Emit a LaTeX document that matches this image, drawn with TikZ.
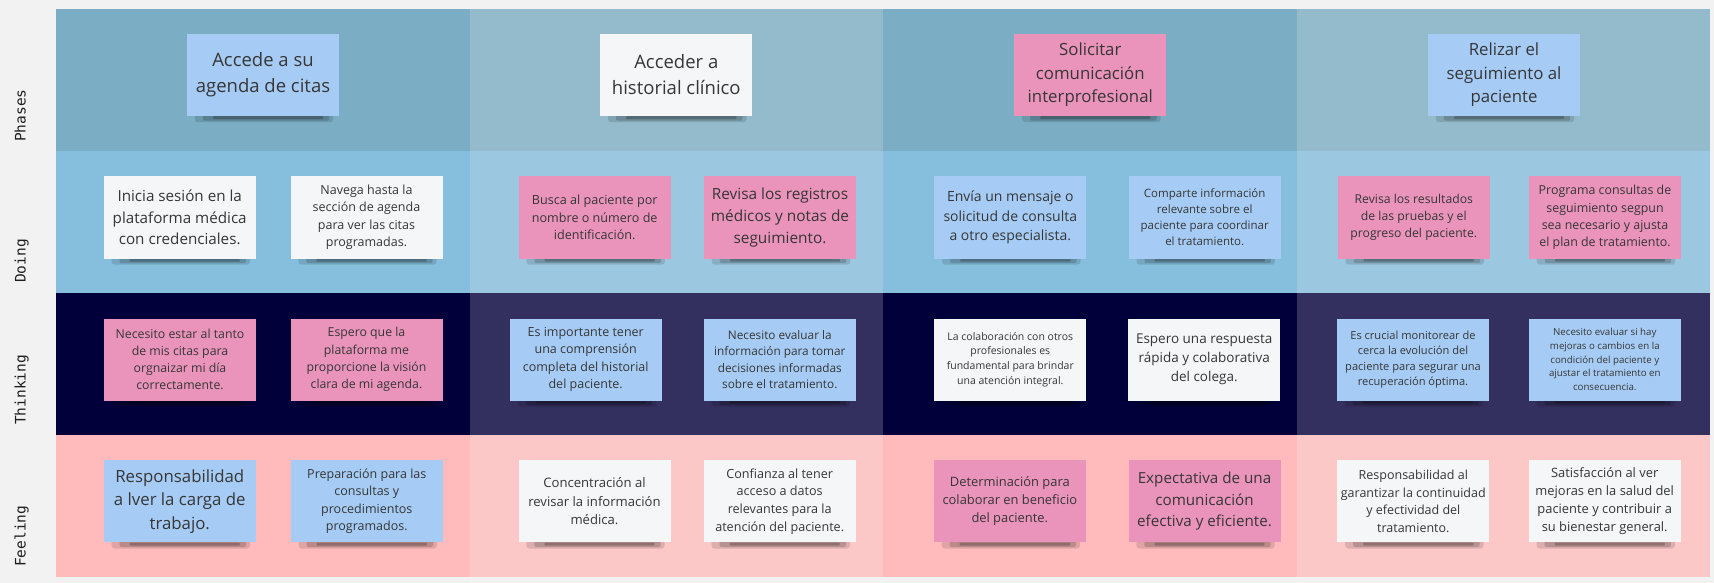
\documentclass[tikz,border=0pt]{standalone}
\usepackage{fontspec}
\setmainfont{Open Sans}
\newfontfamily\labelfont{DejaVu Sans Mono}

% board colours
\definecolor{pageBg}{HTML}{F2F2F2}
\definecolor{phA}{HTML}{7BAEC4}
\definecolor{phB}{HTML}{93BBCB}
\definecolor{doA}{HTML}{86BFDD}
\definecolor{doB}{HTML}{9CC7E0}
\definecolor{thA}{HTML}{02003A}
\definecolor{thB}{HTML}{332F5E}
\definecolor{feA}{HTML}{FFBBBB}
\definecolor{feB}{HTML}{FBC7C7}
% sticky note colours
\definecolor{stBlue}{HTML}{A6CCF5}
\definecolor{stPink}{HTML}{EA94BB}
\definecolor{stWhite}{HTML}{F5F6F8}
\definecolor{inkNote}{HTML}{363636}
\definecolor{inkLabel}{HTML}{1E1E1E}

\pgfdeclarelayer{grid}
\pgfdeclarelayer{shade}
\pgfsetlayers{grid,shade,main}

% font size in pt with a 1.4 line spacing
\newcommand\nf[1]{\fontsize{#1pt}{\dimexpr #1pt*14/10\relax}\selectfont}

\tikzset{
  note/.style={rectangle, minimum width=152pt, minimum height=82pt,
    inner sep=0pt, align=center, text=inkNote},
  rowlabel/.style={rotate=90, anchor=base west, inner sep=0pt,
    text=inkLabel, font=\labelfont\fontsize{14.5pt}{17pt}\selectfont},
  shadowsoft/.style={fill=black, opacity=.12, rounded corners=3pt},
  shadowmid/.style={fill=black, opacity=.16, rounded corners=2pt},
  shadowcore/.style={fill=black, opacity=.22, rounded corners=1pt},
}

% #1 name, #2 centre x, #3 centre y, #4 colour, #5 font size, #6 text
\newcommand\sticky[6]{%
  \node[note, fill=#4, font=\nf{#5}] (#1) at (#2,#3) {#6};
  \begin{pgfonlayer}{shade}
    \fill[shadowsoft] ([xshift=8pt,yshift=4pt]#1.south west) rectangle ([xshift=-6pt,yshift=-6pt]#1.south east);
    \fill[shadowmid] ([xshift=16pt,yshift=2pt]#1.south west) rectangle ([xshift=-10pt,yshift=-4.5pt]#1.south east);
    \fill[shadowcore] ([xshift=26pt]#1.south west) rectangle ([xshift=-16pt,yshift=-3pt]#1.south east);
  \end{pgfonlayer}}

\begin{document}
\begin{tikzpicture}[x=1pt, y=-1pt]
\useasboundingbox (0,0) rectangle (1714,583);

\begin{pgfonlayer}{grid}
  \fill[pageBg] (0,0) rectangle (1714,583);
  \foreach \ya/\yb/\ca/\cb in {9/150.7/phA/phB, 150.7/293/doA/doB,
                               293/435/thA/thB, 435/577/feA/feB} {
    \fill[\ca] (56,\ya) rectangle (469.5,\yb);
    \fill[\cb] (469.5,\ya) rectangle (883,\yb);
    \fill[\ca] (883,\ya) rectangle (1296.5,\yb);
    \fill[\cb] (1296.5,\ya) rectangle (1710,\yb);
  }
\end{pgfonlayer}

% row titles
\node[rowlabel] (lPhases)   at (25.5,142) {Phases};
\node[rowlabel] (lDoing)    at (25.5,283) {Doing};
\node[rowlabel] (lThinking) at (25.5,425) {Thinking};
\node[rowlabel] (lFeeling)  at (25.5,567) {Feeling};

% phases
\sticky{p1}{263}{75}{stBlue}{18.5}{Accede a su\\agenda de citas}
\sticky{p2}{676.3}{75}{stWhite}{18.5}{Acceder a\\historial clínico}
\sticky{p3}{1090.3}{75}{stPink}{16.8}{Solicitar\\comunicación\\interprofesional}
\sticky{p4}{1504}{75}{stBlue}{16.8}{Relizar el\\seguimiento al\\paciente}

% doing
\sticky{d1a}{179.7}{217.5}{stWhite}{15.2}{Inicia sesión en la\\plataforma médica\\con credenciales.}
\sticky{d1b}{366.5}{217.5}{stWhite}{12.5}{Navega hasta la\\sección de agenda\\para ver las citas\\programadas.}
\sticky{d2a}{594.7}{217.5}{stPink}{12.6}{Busca al paciente por\\nombre o número de\\identificación.}
\sticky{d2b}{780}{217.5}{stPink}{15.4}{Revisa los registros\\médicos y notas de\\seguimiento.}
\sticky{d3a}{1010.3}{217.5}{stBlue}{14}{Envía un mensaje o\\solicitud de consulta\\a otro especialista.}
\sticky{d3b}{1204.7}{217.5}{stBlue}{11.5}{Comparte información\\relevante sobre el\\paciente para coordinar\\el tratamiento.}
\sticky{d4a}{1413.8}{217.5}{stPink}{12.2}{Revisa los resultados\\de las pruebas y el\\progreso del paciente.}
\sticky{d4b}{1605}{217.5}{stPink}{12.4}{Programa consultas de\\seguimiento segpun\\sea necesario y ajusta\\el plan de tratamiento.}

% thinking
\sticky{t1a}{180}{359.5}{stPink}{12.3}{Necesito estar al tanto\\de mis citas para\\orgnaizar mi día\\correctamente.}
\sticky{t1b}{366.5}{359.5}{stPink}{12.3}{Espero que la\\plataforma me\\proporcione la visión\\clara de mi agenda.}
\sticky{t2a}{585.7}{359.5}{stBlue}{12.5}{Es importante tener\\una comprensión\\completa del historial\\del paciente.}
\sticky{t2b}{779.8}{359.5}{stBlue}{11.8}{Necesito evaluar la\\información para tomar\\decisiones informadas\\sobre el tratamiento.}
\sticky{t3a}{1010.3}{359.5}{stWhite}{10.5}{La colaboración con otros\\profesionales es\\fundamental para brindar\\una atención integral.}
\sticky{t3b}{1204.2}{359.5}{stWhite}{13.5}{Espero una respuesta\\rápida y colaborativa\\del colega.}
\sticky{t4a}{1413}{359.5}{stBlue}{11.1}{Es crucial monitorear de\\cerca la evolución del\\paciente para segurar una\\recuperación óptima.}
\sticky{t4b}{1604.8}{359.5}{stBlue}{9.7}{Necesito evaluar si hay\\mejoras o cambios en la\\condición del paciente y\\ajustar el tratamiento en\\consecuencia.}

% feeling
\sticky{f1a}{179.8}{501.3}{stBlue}{16.8}{Responsabilidad\\a lver la carga de\\trabajo.}
\sticky{f1b}{366.8}{501.3}{stBlue}{12.5}{Preparación para las\\consultas y\\procedimientos\\programados.}
\sticky{f2a}{594.5}{501.3}{stWhite}{13.1}{Concentración al\\revisar la información\\médica.}
\sticky{f2b}{779.7}{501.3}{stWhite}{12.6}{Confianza al tener\\acceso a datos\\relevantes para la\\atención del paciente.}
\sticky{f3a}{1009.8}{501.3}{stPink}{12.9}{Determinación para\\colaborar en beneficio\\del paciente.}
\sticky{f3b}{1204.5}{501.3}{stPink}{15.2}{Expectativa de una\\comunicación\\efectiva y eficiente.}
\sticky{f4a}{1413.3}{501.3}{stWhite}{12.5}{Responsabilidad al\\garantizar la continuidad\\y efectividad del\\tratamiento.}
\sticky{f4b}{1604.7}{501.3}{stWhite}{12.9}{Satisfacción al ver\\mejoras en la salud del\\paciente y contribuir a\\su bienestar general.}
\end{tikzpicture}
\end{document}
